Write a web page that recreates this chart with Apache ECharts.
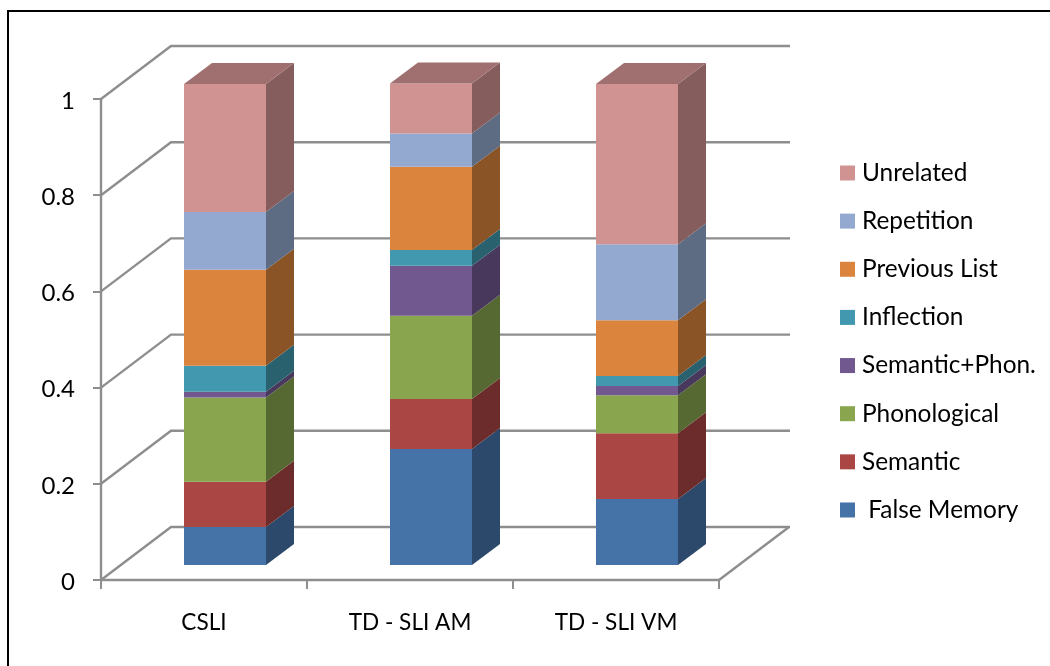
<!DOCTYPE html>
<html>
<head>
<meta charset="utf-8">
<style>html,body{margin:0;padding:0;background:#fff}#chart{width:1050px;height:666px}</style>
<script src="https://cdn.jsdelivr.net/npm/echarts@6/dist/echarts.min.js"></script>
</head>
<body>
<div id="chart"></div>
<script>
const categories = ['CSLI', 'TD - SLI AM', 'TD - SLI VM'];
const yTicks = [0, 0.2, 0.4, 0.6, 0.8, 1];

// Stack layers, bottom to top, one value per category
const falseMemory  = [0.079, 0.241, 0.137];
const semantic     = [0.094, 0.104, 0.137];
const phonological = [0.175, 0.173, 0.079];
const semPhon      = [0.012, 0.104, 0.019];
const inflection   = [0.054, 0.033, 0.021];
const previousList = [0.200, 0.173, 0.116];
const repetition   = [0.120, 0.069, 0.158];
const unrelated    = [0.266, 0.104, 0.333];

const layerNames = ['\u00a0False Memory', 'Semantic', 'Phonological', 'Semantic+Phon.', 'Inflection', 'Previous List', 'Repetition', 'Unrelated'];
const layerValues = [falseMemory, semantic, phonological, semPhon, inflection, previousList, repetition, unrelated];
const layerColors = ['#4572A7', '#AA4643', '#89A54E', '#71588F', '#4198AF', '#DB843D', '#93A9CF', '#D19392'];

// Oblique projection used to fake the 3D box: pixel shifts along the depth direction
const WALL_DX = 70, WALL_DY = 53;
const GAP_DX = 21, GAP_DY = 15;
const COL_DX = 28, COL_DY = 21;
const COL_WIDTH = 82;
const AXIS_GREY = '#8e8e8e';
const FONT = 'Lato';

function shade(hex, f) {
  const n = parseInt(hex.slice(1), 16);
  const c = [n >> 16, (n >> 8) & 255, n & 255].map(v => Math.round(v * f));
  return 'rgb(' + c.join(',') + ')';
}

// Running totals per category, so each layer knows its start and end
const running = categories.map(() => 0);
const stackSeries = layerValues.map((vals, li) => {
  const rows = vals.map((v, ci) => {
    const from = running[ci];
    running[ci] += v;
    return [ci, from, running[ci]];
  });
  const color = layerColors[li];
  const isTop = li === layerValues.length - 1;
  return {
    name: layerNames[li],
    type: 'custom',
    z: 3,
    itemStyle: { color },
    data: rows,
    encode: { x: 0, y: [1, 2] },
    renderItem(params, api) {
      const ci = api.value(0);
      const lo = api.coord([ci, api.value(1)]);
      const hi = api.coord([ci, api.value(2)]);
      const x0 = lo[0] + GAP_DX - COL_WIDTH / 2;
      const x1 = x0 + COL_WIDTH;
      const yLo = lo[1] - GAP_DY;
      const yHi = hi[1] - GAP_DY;
      const children = [
        { type: 'polygon', shape: { points: [[x1, yLo], [x1 + COL_DX, yLo - COL_DY], [x1 + COL_DX, yHi - COL_DY], [x1, yHi]] },
          style: { fill: shade(color, 0.635) } },
        { type: 'rect', shape: { x: x0, y: yHi, width: COL_WIDTH, height: yLo - yHi },
          style: { fill: color } }
      ];
      if (isTop) {
        children.push({ type: 'polygon', shape: { points: [[x0, yHi], [x0 + COL_DX, yHi - COL_DY], [x1 + COL_DX, yHi - COL_DY], [x1, yHi]] },
          style: { fill: shade(color, 0.765) } });
      }
      return { type: 'group', children };
    }
  };
});

// Side wall diagonals and back wall gridlines, one path per tick
const wallSeries = {
  type: 'custom',
  z: 1,
  silent: true,
  data: yTicks.map(v => [0, v]),
  encode: { x: 0, y: 1 },
  renderItem(params, api) {
    const y = api.coord([0, api.value(1)])[1];
    const sys = params.coordSys;
    const style = { stroke: AXIS_GREY, lineWidth: 2.4, fill: null };
    const children = [{
      type: 'polyline',
      shape: { points: [[sys.x, y], [sys.x + WALL_DX, y - WALL_DY], [sys.x + sys.width + WALL_DX + 1, y - WALL_DY]] },
      style
    }];
    if (api.value(1) === 0) {
      children.push({
        type: 'line',
        shape: { x1: sys.x + sys.width, y1: y, x2: sys.x + sys.width + WALL_DX, y2: y - WALL_DY },
        style
      });
    }
    return { type: 'group', children };
  }
};

const chart = echarts.init(document.getElementById('chart'), null, { renderer: 'canvas' });
chart.setOption({
  animation: false,
  backgroundColor: '#fff',
  grid: { left: 101, top: 99, width: 618, height: 481 },
  xAxis: {
    type: 'category',
    data: categories,
    axisLine: { lineStyle: { color: AXIS_GREY, width: 2.4 } },
    axisTick: { show: true, length: 9, lineStyle: { color: AXIS_GREY, width: 2 } },
    axisLabel: { color: '#000', fontFamily: FONT, fontSize: 22.6, margin: 31 }
  },
  yAxis: {
    type: 'value',
    min: 0, max: 1, interval: 0.2,
    splitLine: { show: false },
    axisLine: { show: true, lineStyle: { color: AXIS_GREY, width: 2.4 } },
    axisTick: { show: true, length: 8, lineStyle: { color: AXIS_GREY, width: 2 } },
    axisLabel: {
      margin: 26,
      formatter: '{n|{value}}',
      rich: { n: { color: '#000', fontFamily: FONT, fontSize: 24, padding: [4, 0, 0, 0] } }
    }
  },
  legend: {
    orient: 'vertical',
    left: 840, top: 161,
    padding: 0,
    icon: 'rect',
    itemWidth: 15, itemHeight: 15,
    itemGap: 24.14,
    data: layerNames.slice().reverse(),
    textStyle: { color: '#000', fontFamily: FONT, fontSize: 24.4, lineHeight: 24, padding: [0, 0, 0, 2] }
  },
  graphic: [{
    type: 'polyline',
    silent: true,
    shape: { points: [[8, 666], [8, 11], [1050, 11]] },
    style: { stroke: '#000', lineWidth: 2, fill: null }
  }],
  series: [wallSeries].concat(stackSeries)
});
</script>
</body>
</html>
